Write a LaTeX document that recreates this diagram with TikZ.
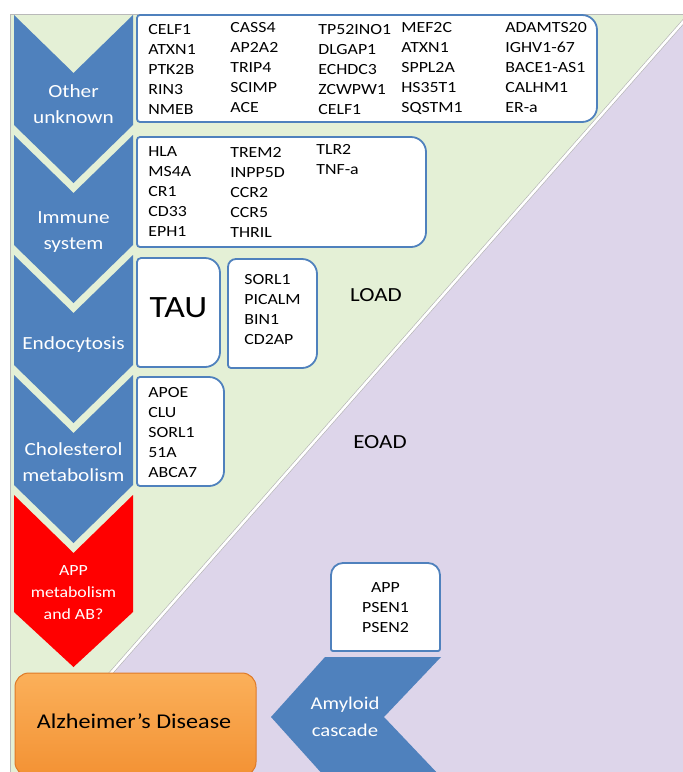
\documentclass[tikz,border=0pt]{standalone}
\usepackage{fontspec}
\setmainfont{Carlito}[FakeStretch=1.15]

\definecolor{loadGreen}{RGB}{228,240,214}
\definecolor{eoadLilac}{RGB}{221,213,234}
\definecolor{chevBlue}{RGB}{79,129,189}
\definecolor{chevRed}{RGB}{255,0,0}
\definecolor{adOrangeTop}{RGB}{251,176,90}
\definecolor{adOrangeBot}{RGB}{243,146,52}
\definecolor{adOrangeLine}{RGB}{222,122,40}

\tikzset{every picture/.style={line width=0.75pt}}
\tikzset{
  chevron/.style={fill=chevBlue, draw=none},
  genebox/.style={fill=white, draw=chevBlue, line width=1.8pt},
  genes/.style={anchor=north west, inner sep=0pt, align=left, font=\fontsize{15.5}{20}\selectfont},
  chevtext/.style={text=white, align=center, inner sep=0pt, font=\fontsize{18.5}{26}\selectfont},
  groupname/.style={inner sep=0pt, font=\fontsize{20}{24}\selectfont}
}

% box with its own radius on each corner: x1,y1,x2,y2, top-left, top-right, bottom-right, bottom-left
\newcommand{\rbox}[8]{%
  \filldraw[genebox] ({#1+#5},#2) -- ({#3-#6},#2) arc[start angle=270,end angle=360,radius=#6]
    -- (#3,{#4-#7}) arc[start angle=0,end angle=90,radius=#7]
    -- ({#1+#8},#4) arc[start angle=90,end angle=180,radius=#8]
    -- (#1,{#2+#5}) arc[start angle=180,end angle=270,radius=#5] -- cycle;}

\begin{document}
\begin{tikzpicture}[x=1pt,y=1pt,yscale=-1,xscale=1]
\useasboundingbox (0,0) rectangle (683,772);
\clip (0,0) rectangle (683,772);

%Shape: LOAD background
\draw [draw=gray!55, fill=loadGreen] (10,14) rectangle (690,780);
%Shape: EOAD triangle
\fill [eoadLilac] (690,14) -- (96,690) -- (96,780) -- (690,780) -- cycle;
%Straight Lines: border between the two
\draw [draw=gray!60, line width=0.6pt, double=white, double distance=2.6pt] (690,14) -- (96,690);

%Shape: Chevrons
\fill [chevron] (14,15) -- (73.5,73) -- (133,15) -- (133,125) -- (73.5,183) -- (14,125) -- cycle;
\fill [chevron] (14,135) -- (73.5,193) -- (133,135) -- (133,245) -- (73.5,303) -- (14,245) -- cycle;
\fill [chevron] (14,255) -- (73.5,313) -- (133,255) -- (133,365) -- (73.5,423) -- (14,365) -- cycle;
\fill [chevron] (14,375) -- (73.5,433) -- (133,375) -- (133,485) -- (73.5,543) -- (14,485) -- cycle;
\fill [chevRed] (14,495) -- (73.5,553) -- (133,495) -- (133,612) -- (73.5,667) -- (14,612) -- cycle;

%Shape: Gene boxes
\rbox{137}{15}{597}{122}{3}{15}{15}{3}
\rbox{137}{137}{426}{247}{3}{15}{15}{3}
\rbox{137}{258}{220}{367}{4}{15}{15}{3}
\rbox{228}{259}{317}{368}{8}{15}{15}{3}
\rbox{137}{377}{224}{486}{3}{15}{15}{3}
\rbox{331}{563}{440}{651}{12}{12}{2}{2}

%Shape: Alzheimer's Disease
\draw [draw=adOrangeLine, line width=1pt, top color=adOrangeTop, bottom color=adOrangeBot, rounded corners=14pt] (15,673) rectangle (256,776);
%Shape: Amyloid cascade chevron
\fill [chevron] (441,657) -- (325,657) -- (271,717) -- (325,777) -- (441,777) -- (384,717) -- cycle;

% Text Node
\node [chevtext] (other) at (73.5,104) {Other\\unknown};
\node [chevtext] (immune) at (73.5,232) {Immune\\system};
\node [chevtext] (endo) at (73.5,345) {Endocytosis};
\node [chevtext] (chol) at (73.5,462) {Cholesterol\\metabolism};
\node [chevtext, font=\fontsize{15.5}{22}\selectfont] (appmet) at (73.5,593) {APP\\metabolism\\and AB?};
\node [chevtext, font=\fontsize{18}{27}\selectfont] (amyloid) at (345,717) {Amyloid\\cascade};

% Text Node
\node [genes] (other1) at (148,24) {CELF1\\ATXN1\\PTK2B\\RIN3\\NMEB};
\node [genes] (other2) at (230,22) {CASS4\\AP2A2\\TRIP4\\SCIMP\\ACE};
\node [genes] (other3) at (318,24) {TP52INO1\\DLGAP1\\ECHDC3\\ZCWPW1\\CELF1};
\node [genes] (other4) at (401,22) {MEF2C\\ATXN1\\SPPL2A\\HS35T1\\SQSTM1};
\node [genes] (other5) at (505,22) {ADAMTS20\\IGHV1-67\\BACE1-AS1\\CALHM1\\ER-a};

\node [genes] (immune1) at (148,146) {HLA\\MS4A\\CR1\\CD33\\EPH1};
\node [genes] (immune2) at (230,147) {TREM2\\INPP5D\\CCR2\\CCR5\\THRIL};
\node [genes] (immune3) at (316,144) {TLR2\\TNF-a};

\node [inner sep=0pt, font=\fontsize{31}{36}\selectfont] (tau) at (178.5,308) {TAU};
\node [genes] (endo1) at (244,274) {SORL1\\PICALM\\BIN1\\CD2AP};
\node [genes] (chol1) at (148,387) {APOE\\CLU\\SORL1\\51A\\ABCA7};
\node [genes, anchor=north, align=center] (eoad1) at (385.5,582) {APP\\PSEN1\\PSEN2};

\node [groupname] (load) at (376,295) {LOAD};
\node [groupname] (eoad) at (380,442) {EOAD};
\node [inner sep=0pt, font=\fontsize{21}{25}\selectfont] (ad) at (134,721) {Alzheimer’s Disease};

\end{tikzpicture}
\end{document}
